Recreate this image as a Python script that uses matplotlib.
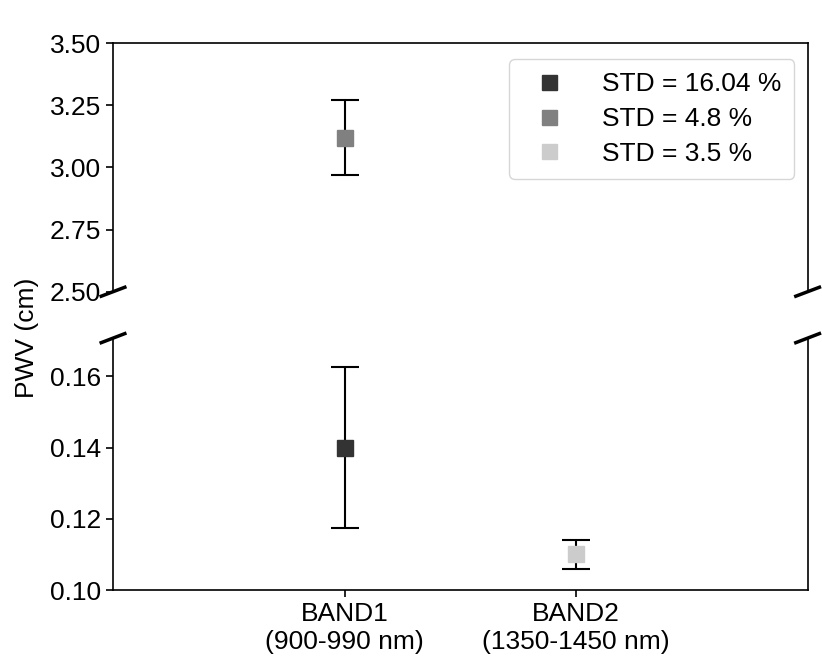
import numpy as np
import matplotlib.pyplot as plt

plt.rcParams['font.family'] = ['Liberation Sans', 'DejaVu Sans']

# data
bands = ['BAND1\n(900-990 nm)', 'BAND2\n(1350-1450 nm)']
band_x = [1, 2]
pwv = [0.14, 3.12, 0.11]
pwv_err = [0.0225, 0.15, 0.004]
point_x = [1, 1, 2]
labels = ['STD = 16.04 %', 'STD = 4.8 %', 'STD = 3.5 %']
colors = ['#333333', '#808080', '#cccccc']

fs = 19

fig = plt.figure(figsize=(8.22, 6.63), dpi=100)
ax_top = fig.add_axes([0.1375, 0.56, 0.845, 0.375])
ax_bot = fig.add_axes([0.1375, 0.11, 0.845, 0.38])

for ax in (ax_top, ax_bot):
    for i in range(len(pwv)):
        ax.errorbar(point_x[i], pwv[i], yerr=pwv_err[i], fmt='none',
                    ecolor='black', elinewidth=1.5, capsize=10, capthick=1.5, zorder=2)
        ax.plot(point_x[i], pwv[i], 's', color=colors[i], markersize=12,
                label=labels[i], zorder=3, linestyle='none')
    ax.set_xlim(0, 3)
    ax.tick_params(labelsize=fs, width=1.2, length=5)
    for s in ax.spines.values():
        s.set_linewidth(1.2)

ax_top.set_ylim(2.5, 3.5)
ax_top.set_yticks([2.5, 2.75, 3.0, 3.25, 3.5])
ax_top.set_yticklabels(['2.50', '2.75', '3.00', '3.25', '3.50'])
ax_bot.set_ylim(0.10, 0.1707)
ax_bot.set_yticks([0.10, 0.12, 0.14, 0.16])
ax_bot.set_yticklabels(['0.10', '0.12', '0.14', '0.16'])

ax_top.spines['bottom'].set_visible(False)
ax_bot.spines['top'].set_visible(False)
ax_top.tick_params(bottom=False, labelbottom=False)
ax_bot.set_xticks(band_x)
ax_bot.set_xticklabels(bands, fontsize=fs)

# break marks
d = 0.017
h = 0.018
kw = dict(color='black', clip_on=False, linewidth=2.5)
ax_top.plot((-d, d), (-h, h), transform=ax_top.transAxes, **kw)
ax_top.plot((1 - d, 1 + d), (-h, h), transform=ax_top.transAxes, **kw)
ax_bot.plot((-d, d), (1 - h, 1 + h), transform=ax_bot.transAxes, **kw)
ax_bot.plot((1 - d, 1 + d), (1 - h, 1 + h), transform=ax_bot.transAxes, **kw)

handles, labs = ax_top.get_legend_handles_labels()
ax_top.legend(handles, labs, loc='upper right', fontsize=fs, numpoints=1,
              handletextpad=1.0, borderpad=0.5, labelspacing=0.4, handlelength=2.0,
              borderaxespad=0, bbox_to_anchor=(0.981, 0.935), markerscale=0.9)

fig.text(0.033, 0.49, 'PWV (cm)', rotation=90, fontsize=fs, va='center', ha='center')

fig.savefig('out.png', dpi=100)
